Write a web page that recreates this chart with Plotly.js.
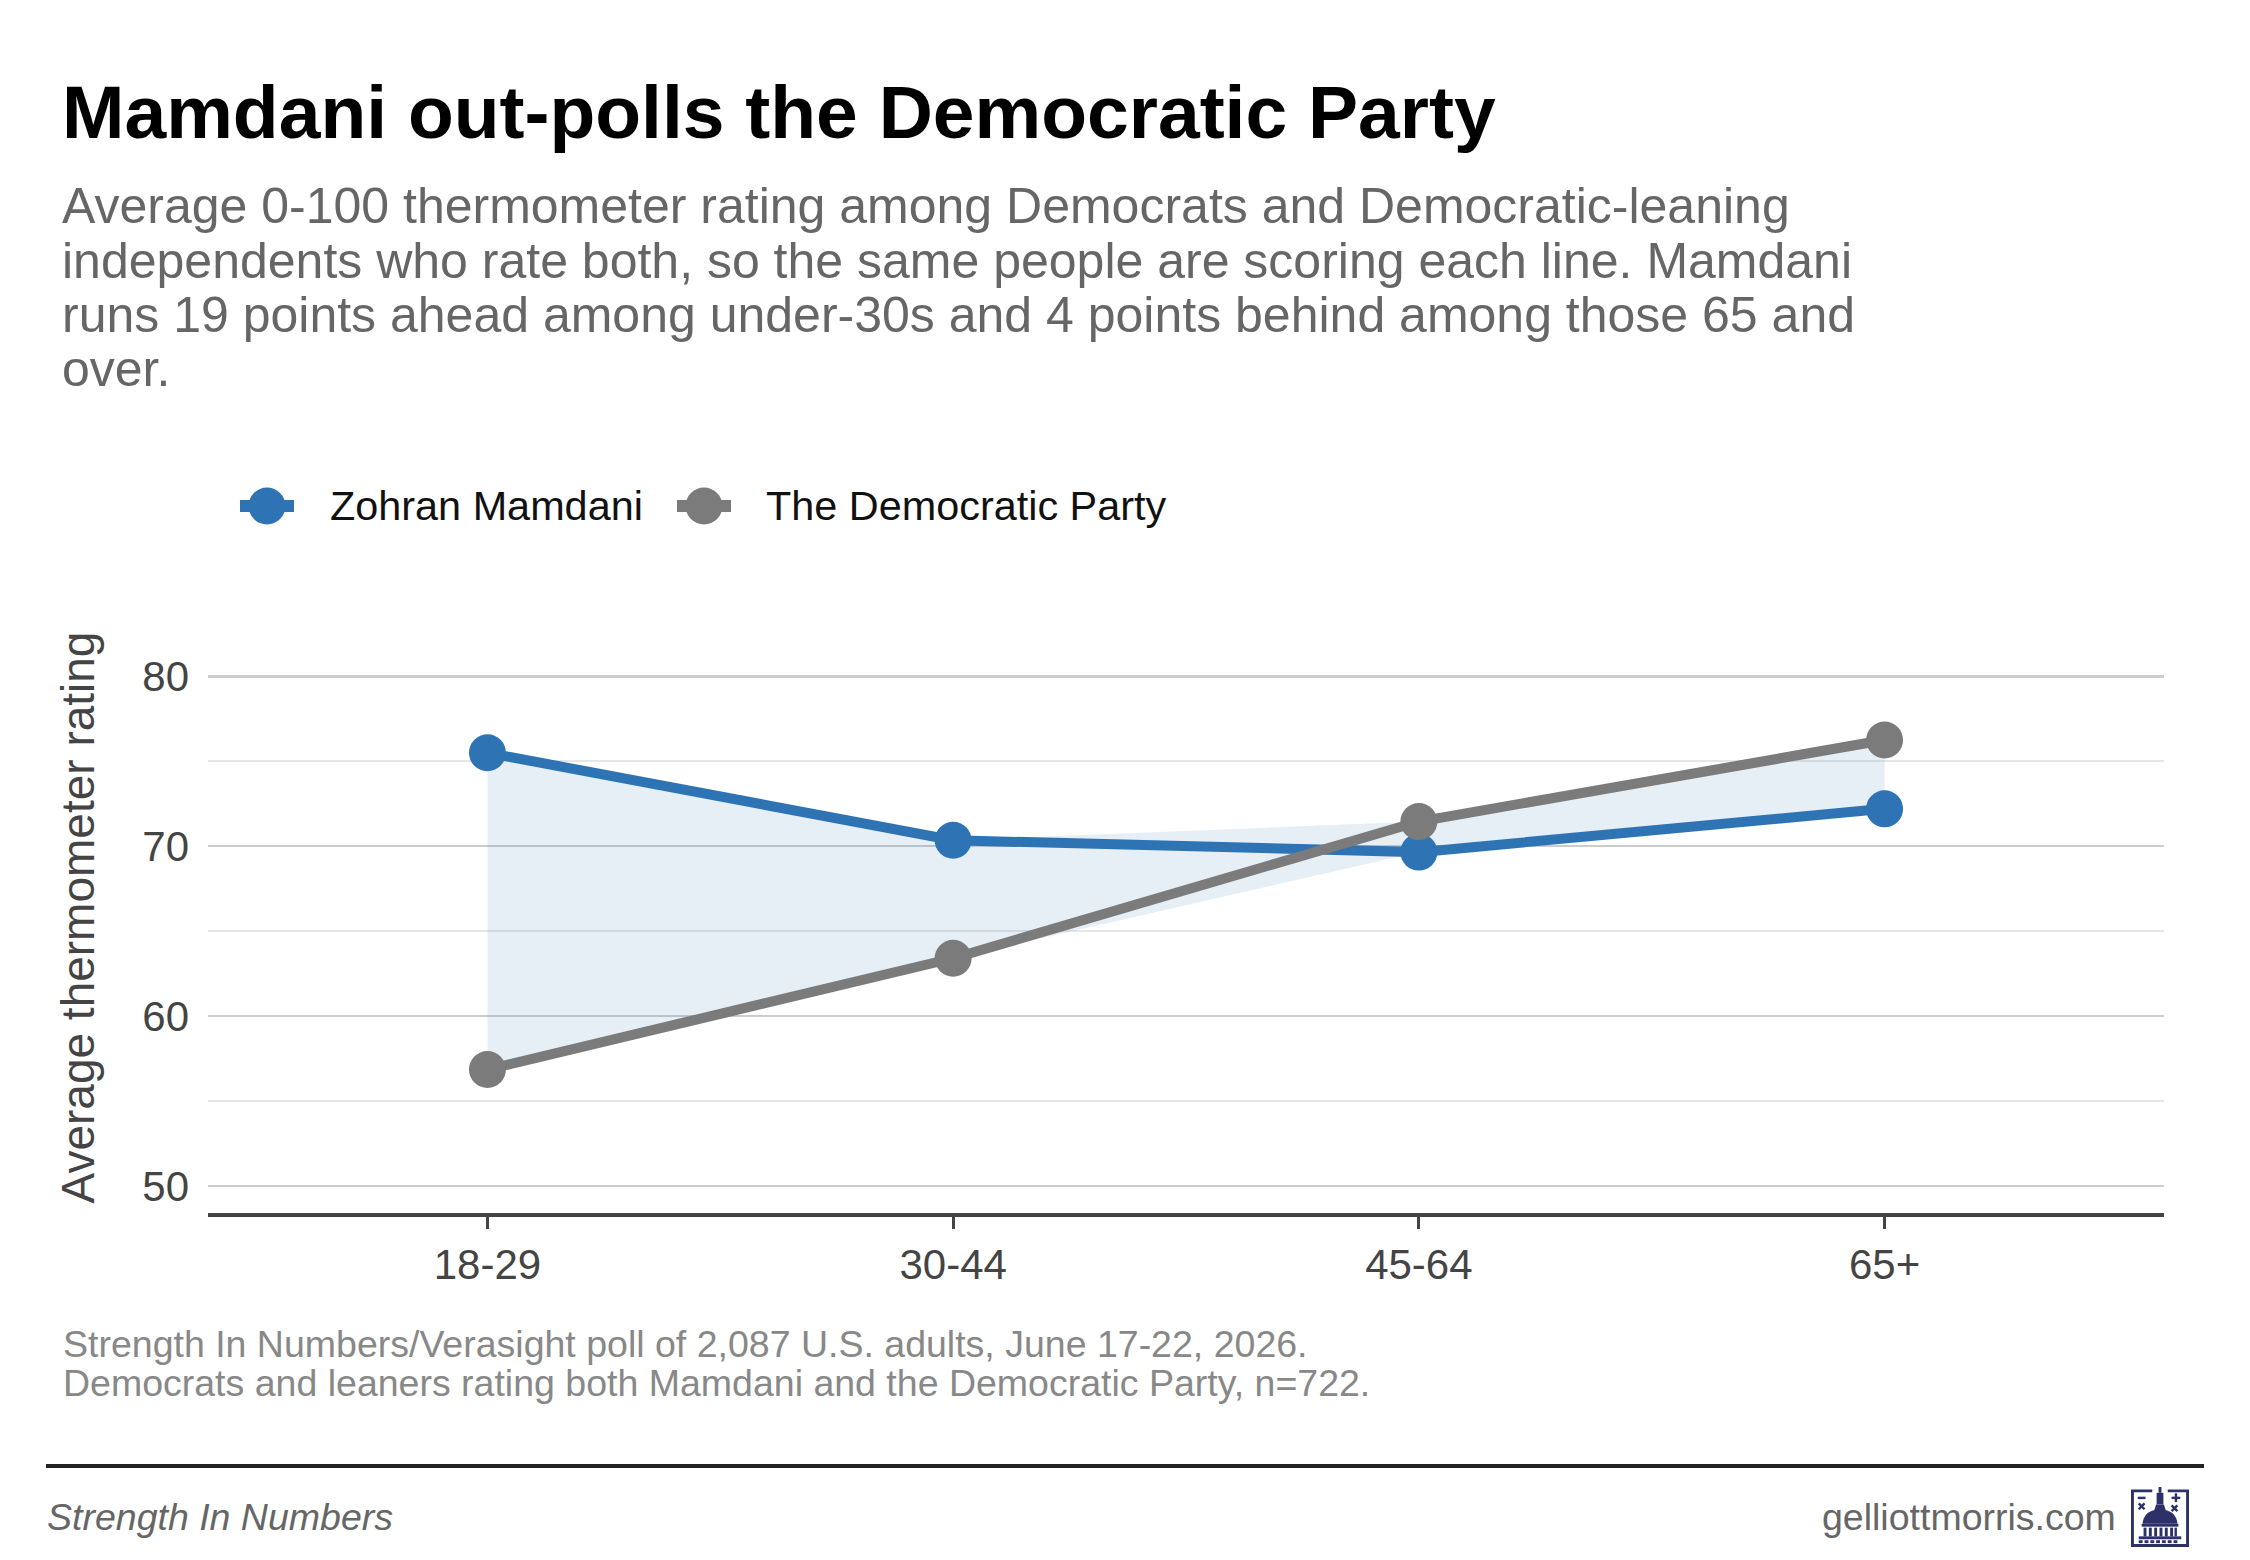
<!DOCTYPE html>
<html>
<head>
<meta charset="utf-8">
<script src="https://cdn.plot.ly/plotly-3.0.1.min.js"></script>
<style>
  html, body { margin: 0; padding: 0; background: #ffffff; }
  #chart { width: 2250px; height: 1560px; }
</style>
</head>
<body>
<div id="chart"></div>
<script>
// ---- Data ----
const ageGroups = ['18-29', '30-44', '45-64', '65+'];
const mamdaniRatings = [75.5, 70.35, 69.65, 72.2];
const democraticPartyRatings = [56.85, 63.4, 71.45, 76.25];
const seriesNames = ['Zohran Mamdani', 'The Democratic Party'];
const yTickValues = [50, 60, 70, 80];

const titleText = 'Mamdani out-polls the Democratic Party';
const subtitleLines = [
  'Average 0-100 thermometer rating among Democrats and Democratic-leaning',
  'independents who rate both, so the same people are scoring each line. Mamdani',
  'runs 19 points ahead among under-30s and 4 points behind among those 65 and',
  'over.'
];
const noteLines = [
  'Strength In Numbers/Verasight poll of 2,087 U.S. adults, June 17-22, 2026.',
  'Democrats and leaners rating both Mamdani and the Democratic Party, n=722.'
];
const footerLeft = 'Strength In Numbers';
const footerRight = 'gelliottmorris.com';

// ---- Style ----
const FONT = 'Liberation Sans, Arial, Helvetica, sans-serif';
const BLUE = '#2e74b5';
const GRAY = '#7b7b7b';
const W = 2250, H = 1560;
const M = { l: 208, r: 86, t: 622, b: 347 };
const PW = W - M.l - M.r, PH = H - M.t - M.b;
const px = (x) => (x - M.l) / PW;          // pixel -> paper x
const py = (y) => (H - M.b - y) / PH;      // pixel -> paper y

// band between the two lines (upper = max, lower = min at each group)
const bandUpper = mamdaniRatings.map((v, i) => Math.max(v, democraticPartyRatings[i]));
const bandLower = mamdaniRatings.map((v, i) => Math.min(v, democraticPartyRatings[i]));

const traces = [
  { x: ageGroups, y: bandLower, type: 'scatter', mode: 'lines', line: { width: 0, color: 'rgba(0,0,0,0)' },
    showlegend: false, hoverinfo: 'skip' },
  { x: ageGroups, y: bandUpper, type: 'scatter', mode: 'lines', line: { width: 0, color: 'rgba(0,0,0,0)' },
    fill: 'tonexty', fillcolor: 'rgba(46,116,181,0.12)', showlegend: false, hoverinfo: 'skip' },
  { x: ageGroups, y: mamdaniRatings, name: seriesNames[0], type: 'scatter', mode: 'lines+markers',
    line: { color: BLUE, width: 10 }, marker: { color: BLUE, size: 37 }, showlegend: false },
  { x: ageGroups, y: democraticPartyRatings, name: seriesNames[1], type: 'scatter', mode: 'lines+markers',
    line: { color: GRAY, width: 10 }, marker: { color: GRAY, size: 37 }, showlegend: false }
];

// ---- Custom legend (large symbols) ----
const legendItems = [
  { name: seriesNames[0], color: BLUE, cx: 267, textX: 328 },
  { name: seriesNames[1], color: GRAY, cx: 704, textX: 764 }
];
const legendY = 506;
const shapes = [];
const annotations = [];
legendItems.forEach(it => {
  shapes.push({ type: 'line', xref: 'paper', yref: 'paper', x0: px(it.cx - 27), x1: px(it.cx + 27),
    y0: py(legendY), y1: py(legendY), line: { color: it.color, width: 12 } });
  shapes.push({ type: 'circle', xref: 'paper', yref: 'paper', x0: px(it.cx - 18.5), x1: px(it.cx + 18.5),
    y0: py(legendY + 18.5), y1: py(legendY - 18.5), fillcolor: it.color, line: { width: 0 } });
  annotations.push({ text: it.name, xref: 'paper', yref: 'paper', x: px(it.textX), y: py(legendY),
    xanchor: 'left', yanchor: 'middle', showarrow: false, font: { family: FONT, size: 41.4, color: '#111111' } });
});

// subtitle lines
const subY = [206, 261, 315, 369];
subtitleLines.forEach((t, i) => annotations.push({ text: t, xref: 'paper', yref: 'paper', x: px(60), y: py(subY[i]),
  xanchor: 'left', yanchor: 'middle', showarrow: false, font: { family: FONT, size: 50, color: '#666666' } }));

// notes
const noteY = [1344, 1383];
noteLines.forEach((t, i) => annotations.push({ text: t, xref: 'paper', yref: 'paper', x: px(61), y: py(noteY[i]),
  xanchor: 'left', yanchor: 'middle', showarrow: false, font: { family: FONT, size: 37.5, color: '#888888' } }));

// footer
annotations.push({ text: '<i>' + footerLeft + '</i>', xref: 'paper', yref: 'paper', x: px(45), y: py(1517),
  xanchor: 'left', yanchor: 'middle', showarrow: false, font: { family: FONT, size: 37.5, color: '#666666' } });
annotations.push({ text: footerRight, xref: 'paper', yref: 'paper', x: px(2118), y: py(1517),
  xanchor: 'right', yanchor: 'middle', showarrow: false, font: { family: FONT, size: 37.5, color: '#666666' } });

shapes.push({ type: 'line', xref: 'paper', yref: 'paper', x0: px(46), x1: px(2204), y0: py(1466), y1: py(1466),
  line: { color: '#222222', width: 4 } });

// logo (capitol dome) as inline SVG
const NAVY = '#2e3169';
const logoSvg = `<svg xmlns="http://www.w3.org/2000/svg" viewBox="0 0 60 62">
<g fill="none" stroke="${NAVY}" stroke-width="3">
<path d="M22,4 L1.5,4 L1.5,60.5 L58.5,60.5 L58.5,4 L38,4"/>
</g>
<g fill="${NAVY}">
<rect x="28.5" y="0" width="3" height="6"/>
<rect x="26.5" y="6" width="7" height="12"/>
<path d="M24,24 L36,24 L34,18 L26,18 Z"/>
<path d="M12,38 Q13,24 30,23 Q47,24 48,38 Z"/>
<rect x="11" y="38" width="38" height="3"/>
<rect x="13" y="42" width="3" height="9"/><rect x="18.5" y="42" width="3" height="9"/>
<rect x="24" y="42" width="3" height="9"/><rect x="29.5" y="42" width="3" height="9"/>
<rect x="35" y="42" width="3" height="9"/><rect x="40.5" y="42" width="3" height="9"/>
<rect x="45" y="42" width="2.5" height="9"/>
<rect x="8" y="51" width="44" height="3"/>
<rect x="8" y="55" width="4" height="3"/><rect x="14" y="55" width="4" height="3"/><rect x="20" y="55" width="4" height="3"/>
<rect x="26" y="55" width="4" height="3"/><rect x="32" y="55" width="4" height="3"/><rect x="38" y="55" width="4" height="3"/>
<rect x="44" y="55" width="4" height="3"/>
<rect x="7" y="10" width="8" height="2.5"/>
<rect x="42" y="10" width="9" height="2.5"/><rect x="45.25" y="6.5" width="2.5" height="9"/>
</g>
<g stroke="${NAVY}" stroke-width="2.5">
<path d="M8,17 L14,23 M14,17 L8,23"/>
<path d="M42,19 L48,25 M48,19 L42,25"/>
</g>
</svg>`;
const logoSrc = 'data:image/svg+xml;charset=utf-8,' + encodeURIComponent(logoSvg);

const layout = {
  width: W, height: H,
  margin: M,
  paper_bgcolor: '#ffffff', plot_bgcolor: '#ffffff',
  font: { family: FONT, color: '#444444' },
  showlegend: false,
  title: { text: '<b>' + titleText + '</b>', xref: 'container', yref: 'container', x: 62 / W, y: 1 - 112 / H,
    xanchor: 'left', yanchor: 'middle', font: { family: FONT, size: 75, color: '#000000' } },
  xaxis: {
    type: 'category', range: [-0.6, 3.6], showgrid: false, zeroline: false,
    showline: true, linecolor: '#444444', linewidth: 4,
    ticks: 'outside', ticklen: 12, tickwidth: 3, tickcolor: '#444444',
    tickfont: { family: FONT, size: 42, color: '#444444' }, ticklabelstandoff: 0, fixedrange: true
  },
  yaxis: {
    range: [48.4, 83.2], tickvals: yTickValues, ticktext: yTickValues.map(String),
    showgrid: true, gridcolor: '#cccccc', gridwidth: 2.5, zeroline: false, showline: false, ticks: '',
    tickfont: { family: FONT, size: 42, color: '#444444' }, ticklabelstandoff: 18,
    minor: { tick0: 0, dtick: 5, showgrid: true, gridcolor: '#e6e6e6', gridwidth: 2 },
    title: { text: 'Average thermometer rating', font: { family: FONT, size: 46, color: '#444444' }, standoff: 33 },
    fixedrange: true
  },
  shapes: shapes,
  annotations: annotations,
  images: [{ source: logoSrc, xref: 'paper', yref: 'paper', x: px(2131), y: py(1487), sizex: 58 / PW, sizey: 60 / PH,
    xanchor: 'left', yanchor: 'top', sizing: 'stretch', layer: 'above' }]
};

Plotly.newPlot('chart', traces, layout, { displayModeBar: false, staticPlot: true });
</script>
</body>
</html>
